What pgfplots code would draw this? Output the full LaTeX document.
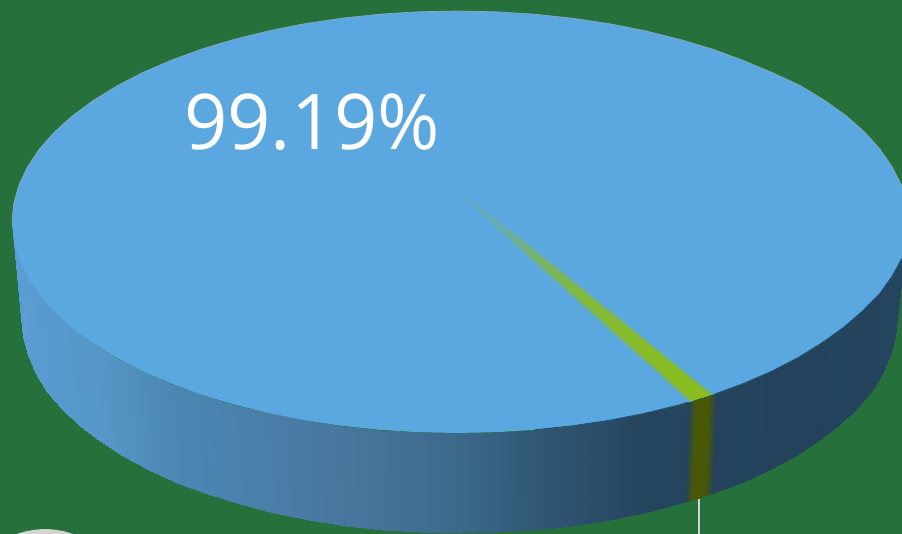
\documentclass[border=0pt]{standalone}
\usepackage{fontspec}
\setmainfont[FakeStretch=0.985]{Open Sans}
\usepackage{pgfplots}
\usepackage{pgfplotstable}
\pgfplotsset{compat=1.18}

\definecolor{bg}{RGB}{38,112,60}
\definecolor{pietop}{RGB}{91,167,224}
\definecolor{rim}{RGB}{135,170,195}
\definecolor{rimdark}{RGB}{30,72,120}

% side wall of the pie, top rim and bottom rim; c is the shade position
\pgfplotstableread{
x y c
12 222 12
21 318 12
13.7 240.4 14
22.7 336.7 14
18.8 258.6 19
27.7 355.3 19
27.2 276.6 27
35.9 373.6 27
38.8 294.2 39
47.4 391.5 39
53.7 311.2 54
62 408.9 54
71.6 327.5 72
79.7 425.5 72
92.5 343 92
100.2 441.3 92
116.1 357.6 116
123.5 456.2 116
142.3 371.2 142
149.3 470 142
171 383.6 171
177.5 482.7 171
201.7 394.9 202
207.8 494.1 202
234.5 404.7 234
240 504.2 234
268.9 413.2 269
273.9 512.9 269
304.8 420.3 305
309.2 520 305
341.8 425.8 342
345.6 525.7 342
379.7 429.8 380
383 529.7 380
418.2 432.2 418
420.8 532.2 418
457 433 457
459 533 457
495.8 432.2 496
497.2 532.2 496
534.3 429.8 534
535 529.7 534
572.2 425.8 572
572.4 525.7 572
609.2 420.3 609
608.8 520 609
645.1 413.2 645
644.1 512.9 645
679.5 404.7 680
678 504.2 680
712.3 394.9 712
710.2 494.1 712
743 383.6 743
740.5 482.7 743
771.7 371.2 772
768.7 470 772
797.9 357.6 798
794.5 456.2 798
821.5 343 822
817.8 441.3 822
843.4 327.5 842
838.3 425.5 842
862.3 311.2 860
856 408.9 860
879.2 294.2 875
870.6 391.5 875
891.8 276.6 887
882.1 373.6 887
901.7 258.6 895
890.3 355.3 895
906.3 240.4 900
895.3 336.7 900
908 222 902
897 318 902
}\sidetable

% olive strip on the side wall
\pgfplotstableread{
x y c
688 402 0
685 502 0
696 400 902
692 500 902
708 396.2 902
705 496 902
717 393.2 0
713 493.1 0
}\stripetable

% the 0.81% slice on the top face
\pgfplotstableread{
x y c
463 199 0
465 197 90
465 197 90
467 195 0
496 230 0
499.3 227.5 270
501.6 226.7 270
505 224 0
529.5 261 0
533.5 257.9 560
538.1 256.4 560
542 253 0
575 301.5 0
579 298.5 767
587 296 767
591 293 0
632 352 0
636 349.3 857
648 345.5 857
652 343 0
688 401.8 0
693 400 902
709 395 902
714 393.2 0
}\slicetable

\begin{document}
\begin{tikzpicture}
\begin{axis}[
  scale only axis,
  width=902pt,
  height=534pt,
  xmin=0, xmax=902,
  ymin=0, ymax=534,
  y dir=reverse,
  hide axis,
  point meta min=0,
  point meta max=902,
  colormap={sidewall}{
    rgb255(0pt)=(91,158,214);
    rgb255(100pt)=(85,150,198);
    rgb255(170pt)=(75,135,180);
    rgb255(250pt)=(74,128,171);
    rgb255(350pt)=(71,117,156);
    rgb255(450pt)=(61,106,140);
    rgb255(550pt)=(47,85,114);
    rgb255(650pt)=(37,68,93);
    rgb255(800pt)=(36,66,92);
    rgb255(902pt)=(37,68,94)
  },
  colormap={stripe}{rgb255(0pt)=(36,66,92); rgb255(902pt)=(72,88,6)},
  colormap={slice}{rgb255(0pt)=(91,167,224); rgb255(902pt)=(138,189,28)},
]
% background
\addplot[fill=bg, draw=none] coordinates {(0,0) (902,0) (902,534) (0,534)} --cycle;
% grey disc of the next object, cut off by the bottom edge
\addplot[fill=black!17, draw=none, smooth] coordinates {
  (12,536) (17,534) (25,531.5) (35,529.8) (45,529) (55,529.8) (65,531.5) (73,534) (78,536)
} --cycle;
% side wall
\addplot[surf, shader=interp, colormap name=sidewall, mesh/rows=37, mesh/cols=2, point meta=explicit]
  table[x=x, y=y, meta=c] {\sidetable};
\addplot[surf, shader=interp, colormap name=stripe, mesh/rows=4, mesh/cols=2, point meta=explicit]
  table[x=x, y=y, meta=c] {\stripetable};
% top face
\addplot[fill=pietop, draw=none] coordinates {
  (908,222) (906.3,240.4) (901.7,258.6) (891.8,276.6) (879.2,294.2) (862.3,311.2)
  (843.4,327.5) (821.5,343) (797.9,357.6) (771.7,371.2) (743,383.6) (712.3,394.9)
  (679.5,404.7) (645.1,413.2) (609.2,420.3) (572.2,425.8) (534.3,429.8) (495.8,432.2)
  (457,433) (418.2,432.2) (379.7,429.8) (341.8,425.8) (304.8,420.3) (268.9,413.2)
  (234.5,404.7) (201.7,394.9) (171,383.6) (142.3,371.2) (116.1,357.6) (92.5,343)
  (71.6,327.5) (53.7,311.2) (38.8,294.2) (27.2,276.6) (18.8,258.6) (13.7,240.4)
  (12,222) (13.7,203.6) (18.8,185.4) (27.2,167.4) (38.8,149.8) (53.7,132.8)
  (71.6,116.5) (92.5,101) (116.1,86.4) (142.3,72.8) (171,60.4) (201.7,49.1)
  (234.5,39.3) (268.9,30.8) (304.8,23.7) (341.8,18.2) (379.7,14.2) (418.2,11.8)
  (457,11) (495.8,11.8) (534.3,14.2) (572.2,18.2) (609.2,23.7) (645.1,30.8)
  (679.5,39.3) (712.3,49.1) (743,60.4) (772.7,72.8) (799.9,85.4) (824,100)
  (845.9,115.5) (864.3,131.8) (879.7,148.8) (891.8,166.4) (901.7,185.4) (906.3,203.6)
} --cycle;
% thin rims of the top face
\addplot[draw=rim, line width=0.7pt] coordinates {
  (12,222) (13.7,203.6) (18.8,185.4) (27.2,167.4) (38.8,149.8) (53.7,132.8)
  (71.6,116.5) (92.5,101) (116.1,86.4) (142.3,72.8) (171,60.4) (201.7,49.1)
  (234.5,39.3) (268.9,30.8) (304.8,23.7) (341.8,18.2) (379.7,14.2) (418.2,11.8)
  (457,11) (495.8,11.8) (534.3,14.2) (572.2,18.2) (609.2,23.7) (645.1,30.8)
  (679.5,39.3) (712.3,49.1) (743,60.4) (772.7,72.8) (799.9,85.4) (824,100)
  (845.9,115.5) (864.3,131.8) (879.7,148.8) (891.8,166.4) (901.7,185.4) (906.3,203.6)
};
\addplot[draw=rimdark, line width=0.7pt] coordinates {
  (901.7,258.6) (891.8,276.6) (879.2,294.2) (862.3,311.2) (843.4,327.5) (821.5,343)
  (797.9,357.6) (771.7,371.2) (743,383.6) (712.3,394.9) (679.5,404.7) (645.1,413.2)
  (609.2,420.3) (572.2,425.8) (534.3,429.8)
};
\addplot[surf, shader=interp, colormap name=slice, mesh/rows=6, mesh/cols=4, point meta=explicit]
  table[x=x, y=y, meta=c] {\slicetable};
% leader line
\addplot[draw=black!17, line width=1.2pt] coordinates {(699,499) (699,534)};
\node[anchor=base west, inner sep=0pt, text=white, font=\fontsize{77}{77}\selectfont]
  at (axis cs:184,149.5) {99.19\%};
\end{axis}
\end{tikzpicture}
\end{document}
